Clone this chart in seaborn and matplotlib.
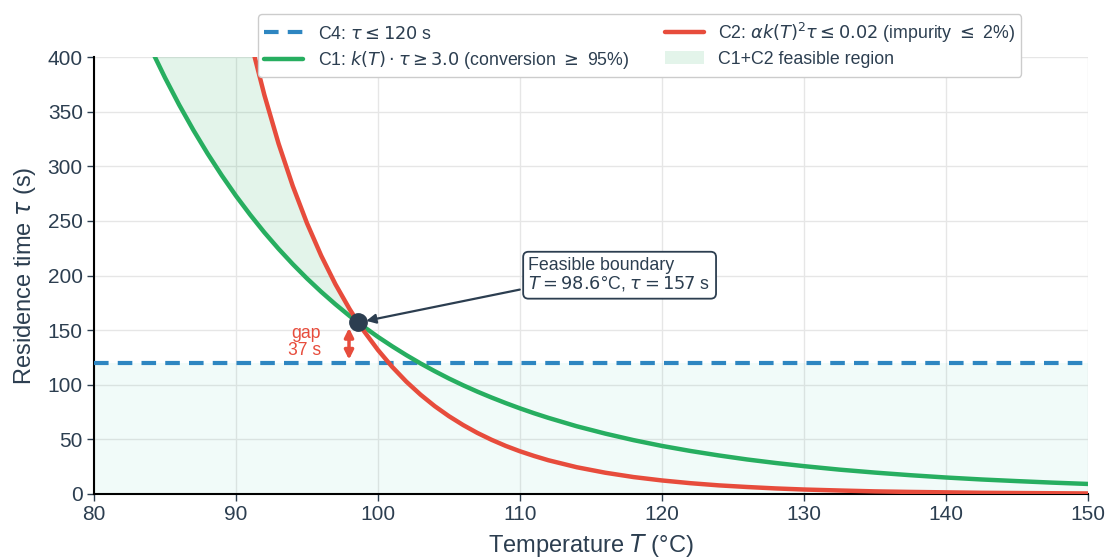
import numpy as np
import pandas as pd
import matplotlib
matplotlib.use("Agg")
import matplotlib.pyplot as plt
import seaborn as sns

# temperatures (deg C) along the two boundary curves
temp = [84, 85, 86, 87, 88, 89, 90, 91, 92, 93, 94, 95, 96, 97, 98, 98.6,
        99, 100, 101, 102, 103, 104, 105, 106, 107, 108, 109, 110, 111, 112,
        114, 116, 118, 120, 122, 124, 126, 128, 130, 132.5, 135, 137.5, 140,
        142.5, 145, 147.5, 150]
# C1 boundary: k(T) * tau = 3.0  (residence time, s)
tau_c1 = [407.8, 381.1, 356.2, 333.1, 311.6, 291.6, 272.9, 255.6, 239.4,
          224.4, 210.4, 197.3, 185.1, 173.7, 163.0, 157.0, 153.1, 143.8,
          135.2, 127.1, 119.5, 112.4, 105.7, 99.5, 93.7, 88.3, 83.2, 78.4,
          73.9, 69.7, 62.0, 55.3, 49.3, 44.0, 39.4, 35.3, 31.6, 28.4, 25.5,
          22.3, 19.6, 17.2, 15.1, 13.3, 11.8, 10.4, 9.2]
# C2 boundary: alpha k(T)^2 tau = 0.02  (residence time, s)
tau_c2 = [1059.4, 924.9, 808.1, 706.6, 618.3, 541.5, 474.5, 416.1, 365.2,
          320.7, 281.9, 247.9, 218.2, 192.1, 169.3, 157.0, 149.3, 131.8,
          116.4, 102.8, 90.9, 80.4, 71.2, 63.1, 55.9, 49.6, 44.0, 39.1, 34.8,
          30.9, 24.5, 19.5, 15.5, 12.4, 9.9, 7.9, 6.4, 5.1, 4.1, 3.2, 2.4,
          1.9, 1.5, 1.1, 0.9, 0.7, 0.5]
tau_max = 120
opt_T, opt_tau = 98.6, 157
gap = opt_tau - tau_max

df = pd.DataFrame({"T": temp, "C1": tau_c1, "C2": tau_c2})

dark = "#2c3e50"
green = "#27ae60"
red = "#e74c3c"
blue = "#2e86c1"

sns.set_theme(style="whitegrid")
plt.rcParams["font.family"] = ["Liberation Sans", "DejaVu Sans"]
plt.rcParams["mathtext.fontset"] = "dejavusans"

fig = plt.figure(figsize=(11.07, 5.58), dpi=100)
ax = fig.add_axes([0.0849, 0.1147, 0.8979, 0.7831])

# C4 region under the residence-time cap
ax.axhspan(0, tau_max, color="#1abc9c", alpha=0.06, lw=0, zorder=1)
# feasible region between C1 and C2
ax.fill_between(df["T"], df["C1"], df["C2"], where=df["C2"] >= df["C1"],
                interpolate=True, color=green, alpha=0.13, lw=0, zorder=1,
                label="C1+C2 feasible region")

ax.axhline(tau_max, color=blue, lw=3, ls=(0, (3.5, 2.2)), zorder=3,
           label=r"C4: $\tau \leq 120$ s")
sns.lineplot(data=df, x="T", y="C1", ax=ax, color=green, lw=3.2, zorder=4,
             label=r"C1: $k(T) \cdot \tau \geq 3.0$ (conversion $\geq$ 95%)")
sns.lineplot(data=df, x="T", y="C2", ax=ax, color=red, lw=3.2, zorder=4,
             label=r"C2: $\alpha k(T)^2 \tau \leq 0.02$ (impurity $\leq$ 2%)")

ax.plot([opt_T], [opt_tau], "o", color=dark, ms=12.5, zorder=6)
ax.annotate("Feasible boundary\n" + r"$T = 98.6$°C, $\tau = 157$ s",
            xy=(opt_T, opt_tau), xytext=(110.6, 200.5), fontsize=12.8,
            color=dark, ha="left", va="center", zorder=7, linespacing=1.05,
            bbox=dict(boxstyle="round,pad=0.3", fc="white", ec=dark, lw=1.3),
            arrowprops=dict(arrowstyle="-|>", color=dark, lw=1.6,
                            relpos=(0, 0.15), shrinkB=6, mutation_scale=14))

ax.annotate("", xy=(97.96, tau_max + 3), xytext=(97.96, opt_tau - 5),
            arrowprops=dict(arrowstyle="<|-|>", color=red, lw=2.5,
                            mutation_scale=13, shrinkA=0, shrinkB=0), zorder=6)
ax.text(96.0, 139, f"gap\n{gap} s", color=red, fontsize=12.7, ha="right",
        va="center", linespacing=1.0, multialignment="right")

ax.set_xlim(80, 150)
ax.set_ylim(0, 400)
ax.set_xticks(np.arange(80, 151, 10))
ax.set_yticks(np.arange(0, 401, 50))
ax.set_xlabel(r"Temperature $T$ (°C)", fontsize=17, color=dark, labelpad=6)
ax.set_ylabel(r"Residence time $\tau$ (s)", fontsize=17, color=dark, labelpad=7)
ax.tick_params(axis="both", labelsize=15, colors=dark, length=5, width=1,
               direction="out", left=True, bottom=True, pad=3)
ax.grid(True, color="#e6e6e6", lw=1)
for side in ["top", "right"]:
    ax.spines[side].set_visible(False)
for side in ["left", "bottom"]:
    ax.spines[side].set_color("black")
    ax.spines[side].set_linewidth(1.5)

handles, labels = ax.get_legend_handles_labels()
order = [labels.index(l) for l in labels if l.startswith("C4")] + \
        [labels.index(l) for l in labels if l.startswith("C1:")] + \
        [labels.index(l) for l in labels if l.startswith("C2")] + \
        [labels.index(l) for l in labels if l.startswith("C1+")]
leg = ax.legend([handles[i] for i in order], [labels[i] for i in order],
                ncol=2, loc="upper center", bbox_to_anchor=(0.549, 1.098),
                borderaxespad=0, fontsize=12.8, frameon=True, framealpha=1,
                edgecolor="#cccccc", columnspacing=2.0, handlelength=2.2,
                borderpad=0.35, labelspacing=0.35)
for t in leg.get_texts():
    t.set_color(dark)

fig.savefig("out.png", dpi=100)
